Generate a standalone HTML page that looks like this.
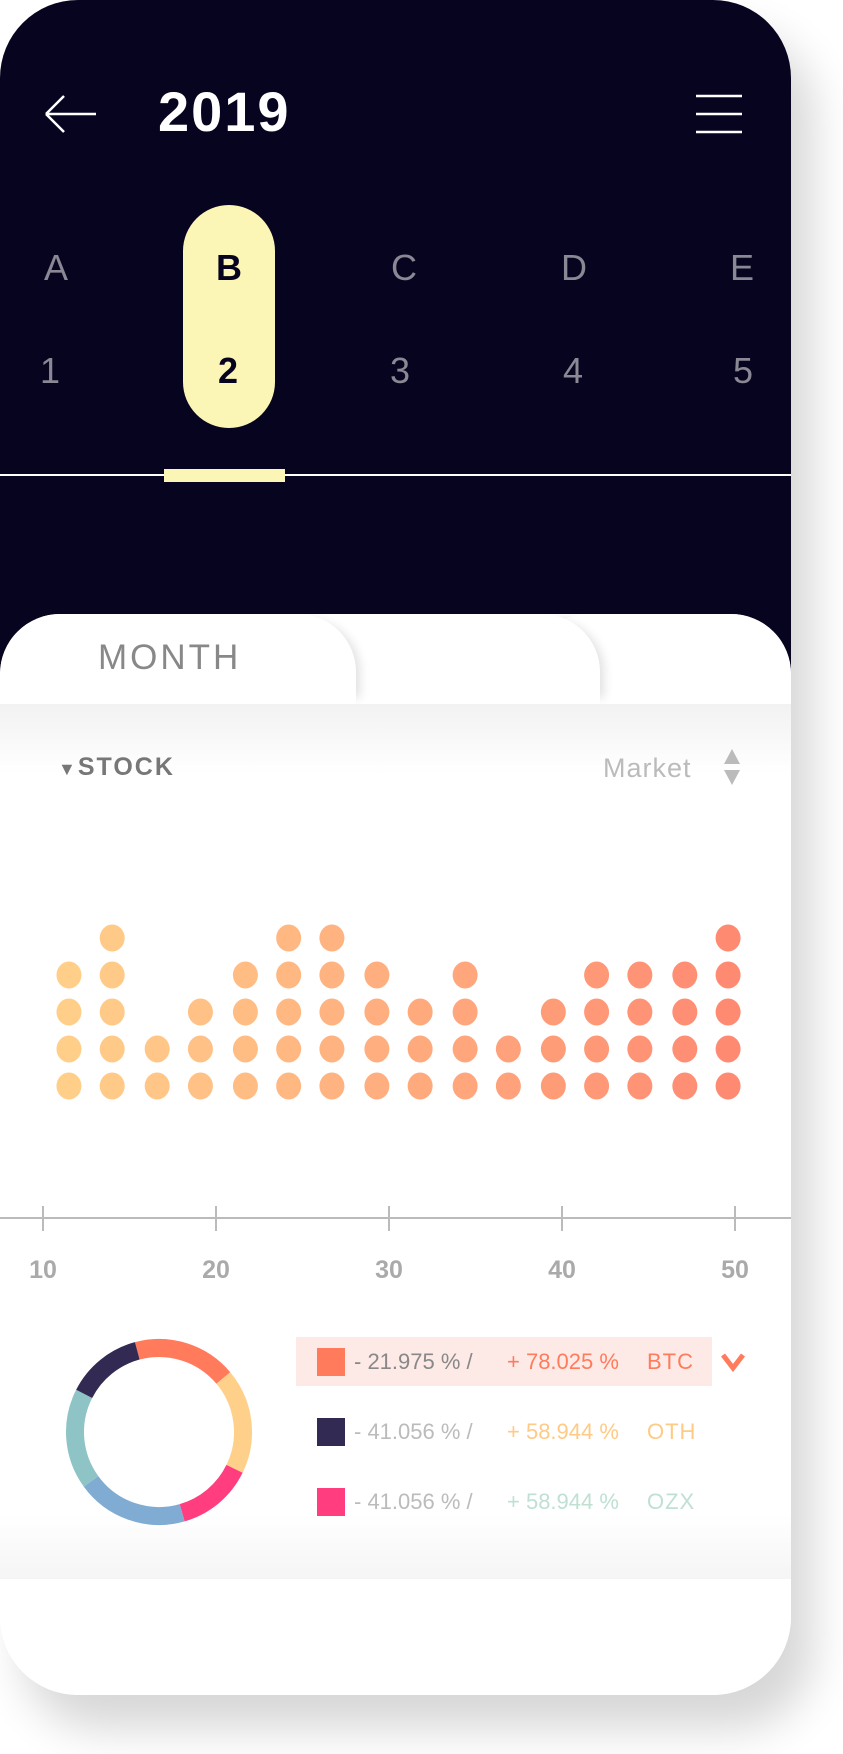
<!DOCTYPE html>
<html><head><meta charset="utf-8">
<style>
html,body{margin:0;padding:0;background:#fff;}
body{width:843px;height:1754px;position:relative;overflow:hidden;font-family:"Liberation Sans",sans-serif;}
.phone{position:absolute;left:0;top:0;width:791px;height:1695px;border-radius:78px;background:#fff;box-shadow:22px 34px 44px rgba(0,0,0,0.16);overflow:hidden;}
.header{position:absolute;left:0;top:0;width:791px;height:700px;background:#07041f;}
.abs{position:absolute;}
.letter{position:absolute;font-size:36px;color:#8a8894;transform:translateX(-50%);line-height:1;}
.card{position:absolute;left:0;top:614px;width:791px;height:1081px;background:#fff;border-radius:60px 60px 0 0;overflow:hidden;}
.tab{position:absolute;top:0;height:90px;background:#fff;border-top-right-radius:58px;border-top-left-radius:58px;}
</style></head>
<body>
<div class="phone">
 <div class="header">
  <svg class="abs" style="left:44px;top:94px" width="54" height="40"><path d="M2 20 H52 M2 20 L20 2 M2 20 L20 38" stroke="#fff" stroke-width="2.5" fill="none"/></svg>
  <div class="abs" style="left:158px;top:84px;font-size:56px;color:#fff;letter-spacing:2px;line-height:1;font-weight:bold">2019</div>
  <svg class="abs" style="left:695px;top:94px" width="48" height="42"><path d="M1 2H47M1 20H47M1 38H47" stroke="#fff" stroke-width="2.5"/></svg>
  <div class="abs" style="left:183px;top:205px;width:92px;height:223px;border-radius:46px;background:#fbf6b6"></div>
  <div class="letter" style="left:56px;top:250px">A</div>
  <div class="letter" style="left:229px;top:250px;color:#07041f;font-weight:bold">B</div>
  <div class="letter" style="left:404px;top:250px">C</div>
  <div class="letter" style="left:574px;top:250px">D</div>
  <div class="letter" style="left:742px;top:250px">E</div>
  <div class="letter" style="left:50px;top:353px">1</div>
  <div class="letter" style="left:228px;top:353px;color:#07041f;font-weight:bold">2</div>
  <div class="letter" style="left:400px;top:353px">3</div>
  <div class="letter" style="left:573px;top:353px">4</div>
  <div class="letter" style="left:743px;top:353px">5</div>
  <div class="abs" style="left:0;top:474px;width:791px;height:2px;background:#fff"></div>
  <div class="abs" style="left:164px;top:469px;width:121px;height:13px;background:#fbf6b6"></div>
 </div>
 <div class="card">
  <div class="abs" style="left:0;top:83px;width:791px;height:80px;background:linear-gradient(#f1f1f1,#fff)"></div>
  <div class="tab" style="left:530px;width:300px;box-shadow:-10px 0 10px -6px rgba(0,0,0,0.12)"></div>
  <div class="tab" style="left:290px;width:310px;box-shadow:10px 0 10px -6px rgba(0,0,0,0.12)"></div>
  <div class="tab" style="left:0;width:356px;box-shadow:10px 0 10px -6px rgba(0,0,0,0.12)"></div>
  <div class="abs" style="left:0;top:90px;width:791px;height:70px;background:linear-gradient(#f2f2f2,#fff)"></div>
  <div class="abs" style="left:98px;top:26px;font-size:35px;color:#888;letter-spacing:3px;line-height:1">MONTH</div>
  <div class="abs" style="left:58px;top:141px;font-size:25px;color:#777;letter-spacing:2px;font-weight:bold;line-height:1"><span style="font-size:18px">▼</span>STOCK</div>
  <div class="abs" style="left:603px;top:141px;font-size:27px;color:#bbb;letter-spacing:1px;line-height:1">Market</div>
  <svg class="abs" style="left:722px;top:134px" width="20" height="38"><path d="M10 1L18 16H2Z M10 37L18 22H2Z" fill="#bbb"/></svg>
  <div class="abs" style="left:0;top:900px;width:791px;height:65px;background:linear-gradient(#fff,#f5f5f5)"></div>
 </div>
 <svg class="abs" style="left:0;top:0" width="791" height="1695">
  <g id="dots"></g><g id="axis"></g><g id="donut"></g>
 </svg>
 <div class="abs" style="left:296px;top:1337px;width:416px;height:49px;background:#fdeae6"></div>
 <div id="legend"></div>
 <svg class="abs" style="left:720px;top:1352px" width="26" height="20"><path d="M3 3L13 16L23 3" stroke="#ff7b5c" stroke-width="5" fill="none"/></svg>
</div>
<script>
const xValues=[11.5,14.0,16.6,19.1,21.7,24.2,26.7,29.3,31.8,34.4,36.9,39.5,42.0,44.5,47.1,49.6];
const dotCounts=[4,5,2,3,4,5,5,4,3,4,2,3,4,4,4,5];
const tickValues=[10,20,30,40,50];
const donutValues=[65,66,48,70,63,48];
const donutColors=['#ff7b5c','#ffd08a','#ff3d7f','#80acd4','#8fc4c6','#322a52'];
const donutStart=-15;
const legendLabels=['BTC','OTH','OZX'];
const legendNeg=['- 21.975 %','- 41.056 %','- 41.056 %'];
const legendPos=['+ 78.025 %','+ 58.944 %','+ 58.944 %'];
const legendSwatch=['#ff7b5c','#322a52','#ff3d7f'];
const legendPosColor=['#ff7b5c','#ffca85','#bfe0d2'];

const NS='http://www.w3.org/2000/svg';
const xScale=v=>43+(v-10)*17.3;
const yScale=r=>1086-r*37;
function mk(t,a,p){const e=document.createElementNS(NS,t);for(const k in a)e.setAttribute(k,a[k]);p.appendChild(e);return e;}
function lerp(a,b,t){return Math.round(a+(b-a)*t);}
const dots=document.getElementById('dots');
xValues.forEach((x,i)=>{
 const t=i/(xValues.length-1);
 const col=`rgb(${lerp(255,255,t)},${lerp(207,138,t)},${lerp(138,114,t)})`;
 for(let r=0;r<dotCounts[i];r++){
  const c=mk('ellipse',{cx:xScale(x),cy:yScale(r),rx:12.5,ry:13.5,fill:col},dots);
  
  
 }
});
const axis=document.getElementById('axis');
const al=mk('line',{x1:0,x2:791,y1:1218,y2:1218,stroke:'#bbb','stroke-width':2},axis);


tickValues.forEach(v=>{
 const tk=mk('line',{x1:xScale(v),x2:xScale(v),y1:1206,y2:1231,stroke:'#bbb','stroke-width':2},axis);
 
 
 const tx=mk('text',{x:xScale(v),y:1278,'text-anchor':'middle','font-size':25,'font-weight':'bold',fill:'#aaa','font-family':'Liberation Sans'},axis);
 tx.textContent=v;
 
 
});
const donut=document.getElementById('donut');
const cx=159,cy=1432,R=84;
const total=donutValues.reduce((a,b)=>a+b,0);
let ang=donutStart;
donutValues.forEach((v,i)=>{
 const a0=ang*Math.PI/180,a1=(ang+v/total*360)*Math.PI/180;
 ang+=v/total*360;
 const p=mk('path',{d:`M${cx+R*Math.sin(a0)} ${cy-R*Math.cos(a0)} A${R} ${R} 0 ${a1-a0>Math.PI?1:0} 1 ${cx+R*Math.sin(a1)} ${cy-R*Math.cos(a1)}`,stroke:donutColors[i],'stroke-width':18,fill:'none'},donut);
 
 
});
const lg=document.getElementById('legend');
legendLabels.forEach((l,i)=>{
 const y=1362+i*70;
 const row=document.createElement('div');
 
 
 row.style.cssText=`position:absolute;left:317px;top:${y-14}px;height:28px;white-space:nowrap;font-size:22px;line-height:28px;`;
 row.innerHTML=`<span style="display:inline-block;width:28px;height:28px;background:${legendSwatch[i]};vertical-align:top"></span>`+
 `<span style="position:absolute;left:37px;color:${i==0?'#888':'#bbb'}">${legendNeg[i]} /</span>`+
 `<span style="position:absolute;left:190px;color:${legendPosColor[i]}">${legendPos[i]}</span>`+
 `<span style="position:absolute;left:330px;color:${legendPosColor[i]};letter-spacing:1px">${l}</span>`;
 lg.appendChild(row);
});
</script>
</body></html>
